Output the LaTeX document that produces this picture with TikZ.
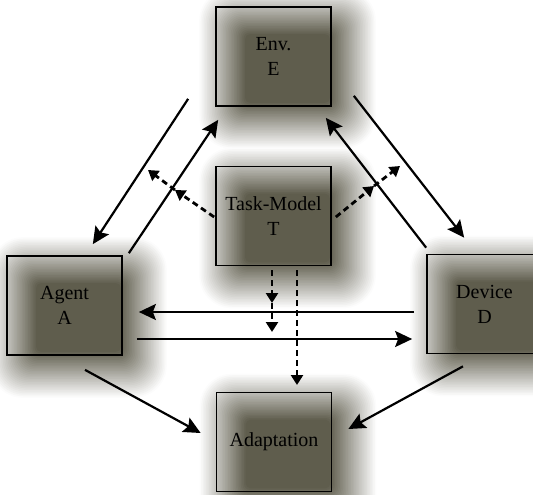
\documentclass[tikz,border=0pt]{standalone}
\usepackage{fontspec}
\setmainfont{Liberation Serif}
\usepackage{xcolor}
\usepackage{tikz}
\usetikzlibrary{arrows.meta,backgrounds}
\definecolor{glowshade}{RGB}{92,90,74}
\tikzset{
    adaptbox/.style={draw, line width=1.7pt, rectangle, align=center, minimum width=115pt, minimum height=99pt, inner sep=0pt, text=black, font=\fontsize{20}{25}\selectfont},
    adaptarrow/.style={draw, line width=2.2pt, -{Stealth[length=17pt, width=16pt, inset=3pt]}},
    adaptdash/.style={draw, line width=2.8pt, dash pattern=on 6pt off 4pt, -{Triangle[length=10pt, width=12pt]}}
}

\begin{document}
\begin{tikzpicture}[x=1pt, y=-1pt]
    \useasboundingbox (0,0) rectangle (533,495);
    \node[adaptbox] (env) at (273.5,56.5) {Env.\\E};
    \node[adaptbox] (task) at (273.5,216) {Task-Model\\T};
    \node[adaptbox] (agent) at (64.5,305.5) {Agent\\A};
    \node[adaptbox] (device) at (484.5,304) {Device\\D};
    \node[adaptbox] (adapt) at (274,442) {Adaptation};
    \coordinate (tlmid) at (175,190);
    \coordinate (tlend) at (148,170);
    \coordinate (trmid) at (374,186);
    \coordinate (trend) at (400,166);
    \coordinate (tvmid) at (272,303);
    \coordinate (tvend) at (272,332);
    \coordinate (tdend) at (297,385);
    \begin{scope}[on background layer]
        \foreach \n in {env,task,agent,device,adapt}{
            \foreach \k in {0,...,29}{
                \pgfmathsetmacro\ee{30-46*\k/29}
                \pgfmathsetmacro\pp{100*(\k+0.5)/30}
                \pgfmathsetmacro\rr{0.6*(\ee+16)+5}
                \fill[glowshade!\pp!white, rounded corners=\rr pt] ([shift={(14-\ee,12+\ee)}]\n.south west) rectangle ([shift={(14+\ee,12-\ee)}]\n.north east);
            }
        }
    \end{scope}
    \draw[adaptarrow] ([shift={(-27,-8)}]env.south west) -- ([shift={(-30,-11)}]agent.north east);
    \draw[adaptarrow] ([shift={(6,-2)}]agent.north east) -- ([shift={(3,13)}]env.south west);
    \draw[adaptarrow] ([shift={(0,-6)}]device.north west) -- ([shift={(-6,11)}]env.south east);
    \draw[adaptarrow] ([shift={(22,-11)}]env.south east) -- ([shift={(38,-16)}]device.north west);
    \draw[adaptarrow] ([shift={(-12,8)}]device.west) -- ([shift={(16,6.5)}]agent.east);
    \draw[adaptarrow] ([shift={(14,33.5)}]agent.east) -- ([shift={(-14,35)}]device.west);
    \draw[adaptarrow] ([shift={(20.5,14)}]agent.south) -- ([shift={(-15,-9)}]adapt.west);
    \draw[adaptarrow] ([shift={(-21.5,12)}]device.south) -- ([shift={(16,-13)}]adapt.east);
    \draw[adaptdash] ([shift={(-1,1)}]task.west) -- (tlmid);
    \draw[adaptdash] (tlmid) -- (tlend);
    \draw[adaptdash] ([shift={(4,1)}]task.east) -- (trmid);
    \draw[adaptdash] (trmid) -- (trend);
    \draw[adaptdash] ([shift={(-1.5,4)}]task.south) -- (tvmid);
    \draw[adaptdash] (tvmid) -- (tvend);
    \draw[adaptdash] ([shift={(23.5,4)}]task.south) -- (tdend);
\end{tikzpicture}
\end{document}
